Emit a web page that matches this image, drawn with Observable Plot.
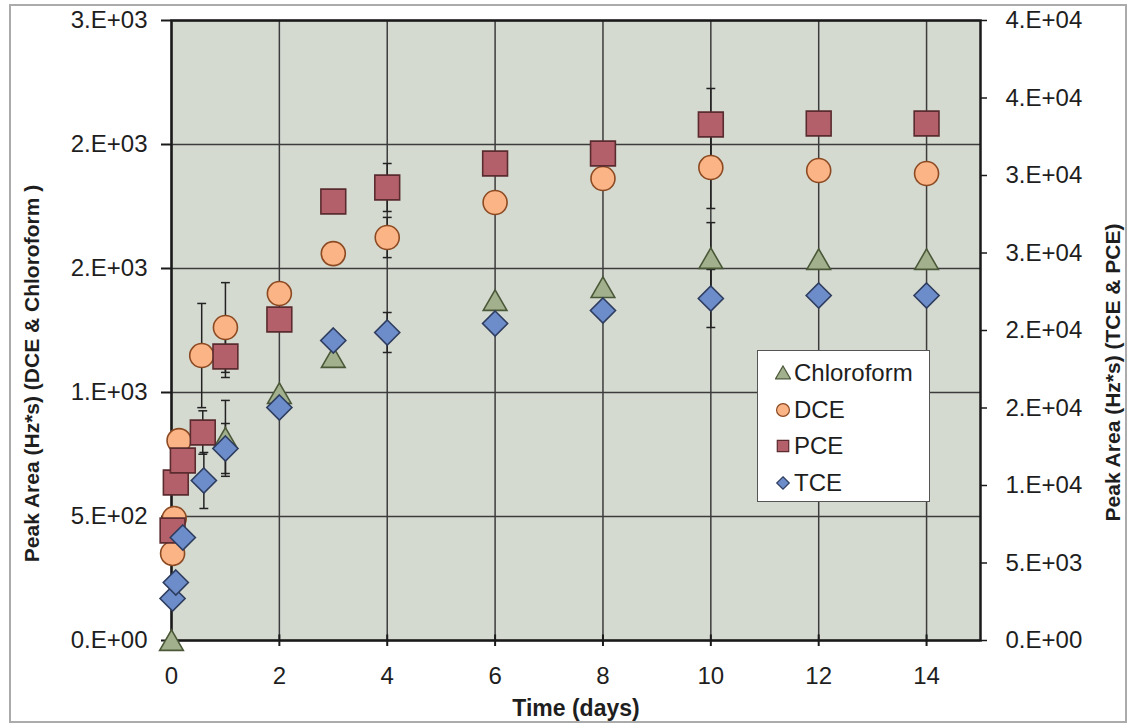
<!DOCTYPE html>
<html><head><meta charset="utf-8">
<script src="https://cdn.jsdelivr.net/npm/d3@7"></script>
<script src="https://cdn.jsdelivr.net/npm/@observablehq/plot@0.6"></script>
<style>
body{margin:0;background:#fff;}
#wrap{position:relative;width:1133px;height:726px;font-family:"Liberation Sans",Arial,sans-serif;overflow:hidden;}
#wrap svg{position:absolute;left:0;top:0;}
#border{position:absolute;left:9px;top:4px;width:1114px;height:715px;border:2px solid #ababab;pointer-events:none;}
#legend{position:absolute;left:757px;top:350px;width:171px;height:150px;background:#fff;border:1.5px solid #555;}
.row{position:absolute;left:0;height:30px;display:flex;align-items:center;font-size:24px;color:#1e1e1e;}
.row svg{position:static !important;margin-left:17px;margin-right:3px;}
</style></head><body><div id="wrap"><div id="border"></div></div>
<script>
// ---- data ----
const seriesNames = ["Chloroform", "DCE", "PCE", "TCE"];
const xTicks = [0, 2, 4, 6, 8, 10, 12, 14];
const xTickLabels = ["0", "2", "4", "6", "8", "10", "12", "14"];
const leftTicks = [0, 500, 1000, 1500, 2000, 2500];
const leftTickLabels = ["0.E+00", "5.E+02", "1.E+03", "2.E+03", "2.E+03", "3.E+03"];
const rightTicks = [0, 5000, 10000, 15000, 20000, 25000, 30000, 35000, 40000];
const rightTickLabels = ["0.E+00", "5.E+03", "1.E+04", "2.E+04", "2.E+04", "3.E+04", "3.E+04", "4.E+04", "4.E+04"];

const chloroformDays = [0, 1, 2, 3, 6, 8, 10, 12, 14];
const chloroformArea = [0, 815, 996, 1141, 1371, 1423, 1540, 1536, 1536];
const chloroformErr  = [0, 153, 0, 0, 0, 0, 145, 0, 0];

const dceDays = [0.02, 0.05, 0.14, 0.56, 1, 2, 3, 4, 6, 8, 10, 12, 14];
const dceArea = [351, 492, 806, 1149, 1262, 1399, 1560, 1625, 1766, 1863, 1907, 1895, 1883];
const dceErr  = [0, 0, 0, 210, 181, 0, 0, 81, 0, 0, 165, 0, 0];

const pceDays = [0.02, 0.08, 0.21, 0.58, 1, 2, 3, 4, 6, 8, 10, 12, 14];
const pceArea = [7097, 10194, 11613, 13419, 18323, 20710, 28323, 29226, 30774, 31419, 33290, 33355, 33355];
const pceErr  = [0, 0, 0, 1400, 1355, 0, 0, 1548, 0, 0, 2323, 0, 0];

const tceDays = [0.02, 0.08, 0.21, 0.6, 1, 2, 3, 4, 6, 8, 10, 12, 14];
const tceArea = [2710, 3742, 6645, 10323, 12387, 15032, 19355, 19871, 20452, 21290, 22065, 22258, 22258];
const tceErr  = [0, 0, 0, 1806, 1613, 0, 0, 1290, 0, 0, 1871, 0, 0];

// ---- build ----
const k = leftTicks[leftTicks.length - 1] / rightTicks[rightTicks.length - 1];
const specs = [
  {name: seriesNames[0], days: chloroformDays, area: chloroformArea, err: chloroformErr, factor: 1,
   symbol: "triangle", d3sym: d3.symbolTriangle, fill: "#a2b08d", stroke: "#4a5838", r: 8.8, dy: 3},
  {name: seriesNames[1], days: dceDays, area: dceArea, err: dceErr, factor: 1,
   symbol: "circle", d3sym: d3.symbolCircle, fill: "#fbb486", stroke: "#8c4a22", r: 12, dy: 0},
  {name: seriesNames[2], days: pceDays, area: pceArea, err: pceErr, factor: k,
   symbol: "square", d3sym: d3.symbolSquare, fill: "#b4606a", stroke: "#5a2b2f", r: 14, dy: 0},
  {name: seriesNames[3], days: tceDays, area: tceArea, err: tceErr, factor: k,
   symbol: "diamond2", d3sym: d3.symbolDiamond2, fill: "#6d8dca", stroke: "#2e3d5f", r: 11.3, dy: 0}
];
const rows = specs.flatMap(s => s.days.map((d, i) => ({series: s.name, day: d, y: s.area[i] * s.factor, e: s.err[i] * s.factor})));
const errRows = rows.filter(d => d.e > 0);
const capRows = errRows.flatMap(d => [{day: d.day, y: d.y - d.e}, {day: d.day, y: d.y + d.e}]);

const capSymbol = {draw(ctx, size) { const w = Math.sqrt(size); ctx.moveTo(-w, 0); ctx.lineTo(w, 0); }};
const upTick = {draw(ctx, size) { const w = Math.sqrt(size); ctx.moveTo(0, 0); ctx.lineTo(0, -w); }};

const xLabel = d => xTickLabels[xTicks.indexOf(d)];
const leftLabel = d => leftTickLabels[leftTicks.indexOf(d)];
const rightPos = rightTicks.map(v => v * k);
const rightLabel = d => rightTickLabels[rightPos.indexOf(d)];

const chart = Plot.plot({
  width: 1133, height: 726,
  marginLeft: 171, marginRight: 153, marginTop: 20, marginBottom: 86,
  style: {background: "transparent", fontFamily: "'Liberation Sans', Arial, sans-serif", fontSize: "24px", color: "#1e1e1e"},
  x: {domain: [0, 15]},
  y: {domain: [leftTicks[0], leftTicks[leftTicks.length - 1]]},
  marks: [
    Plot.frame({fill: "#d5dad1"}),
    Plot.gridX(xTicks, {stroke: "#3c3c3c", strokeOpacity: 1, strokeWidth: 1.5}),
    Plot.gridY(leftTicks, {stroke: "#3c3c3c", strokeOpacity: 1, strokeWidth: 1.5}),
    Plot.frame({stroke: "#1a1a1a", strokeWidth: 2.5}),
    Plot.axisX(xTicks, {anchor: "bottom", tickSize: 6, tickPadding: 20, tickFormat: xLabel, label: null, stroke: "#1a1a1a", strokeWidth: 2}),
    Plot.dot(xTicks, {x: d => d, y: () => 0, symbol: upTick, r: 3.4, stroke: "#1a1a1a", strokeWidth: 2}),
    Plot.axisY(leftTicks, {anchor: "left", tickSize: 10, tickPadding: 14, tickFormat: leftLabel, label: null, stroke: "#1a1a1a", strokeWidth: 2}),
    Plot.axisY(rightPos, {anchor: "right", tickSize: 6, tickPadding: 19, tickFormat: rightLabel, label: null, stroke: "#1a1a1a", strokeWidth: 1.5}),
    Plot.text(["Time (days)"], {frameAnchor: "bottom", dy: 68, fontWeight: "bold", fontSize: 23, lineAnchor: "middle", textAnchor: "middle"}),
    Plot.text(["Peak Area (Hz*s) (DCE & Chloroform )"], {frameAnchor: "left", dx: -139, dy: 43, rotate: -90, fontWeight: "bold", fontSize: 21, lineAnchor: "middle", textAnchor: "middle"}),
    Plot.text(["Peak Area (Hz*s) (TCE & PCE)"], {frameAnchor: "right", dx: 133, dy: 42, rotate: -90, fontWeight: "bold", fontSize: 21, lineAnchor: "middle", textAnchor: "middle"}),
    Plot.ruleX(errRows, {x: "day", y1: d => d.y - d.e, y2: d => d.y + d.e, stroke: "#222", strokeWidth: 1.5}),
    Plot.dot(capRows, {x: "day", y: "y", symbol: capSymbol, r: 2.5, stroke: "#222", strokeWidth: 1.5}),
    ...specs.map(s => Plot.dot(rows.filter(d => d.series === s.name), {
      x: "day", y: "y", symbol: s.symbol, r: s.r, dy: s.dy, fill: s.fill, stroke: s.stroke, strokeWidth: 1.6
    }))
  ]
});
const wrap = document.getElementById("wrap");
wrap.insertBefore(chart, wrap.firstChild);

// legend
const legend = document.createElement("div");
legend.id = "legend";
const legendSizes = [95, 130, 130, 100];
specs.forEach((s, i) => {
  const row = document.createElement("div");
  row.className = "row";
  row.style.top = (7 + i * 36.7) + "px";
  const path = d3.symbol().type(s.d3sym).size(legendSizes[i])();
  row.innerHTML = `<svg width="16" height="16" viewBox="-8 -8 16 16"><path d="${path}" fill="${s.fill}" stroke="${s.stroke}" stroke-width="1.2" transform="translate(0,${i === 0 ? 1.5 : 0})"/></svg><span>${s.name}</span>`;
  legend.appendChild(row);
});
wrap.appendChild(legend);
</script>
</body></html>
